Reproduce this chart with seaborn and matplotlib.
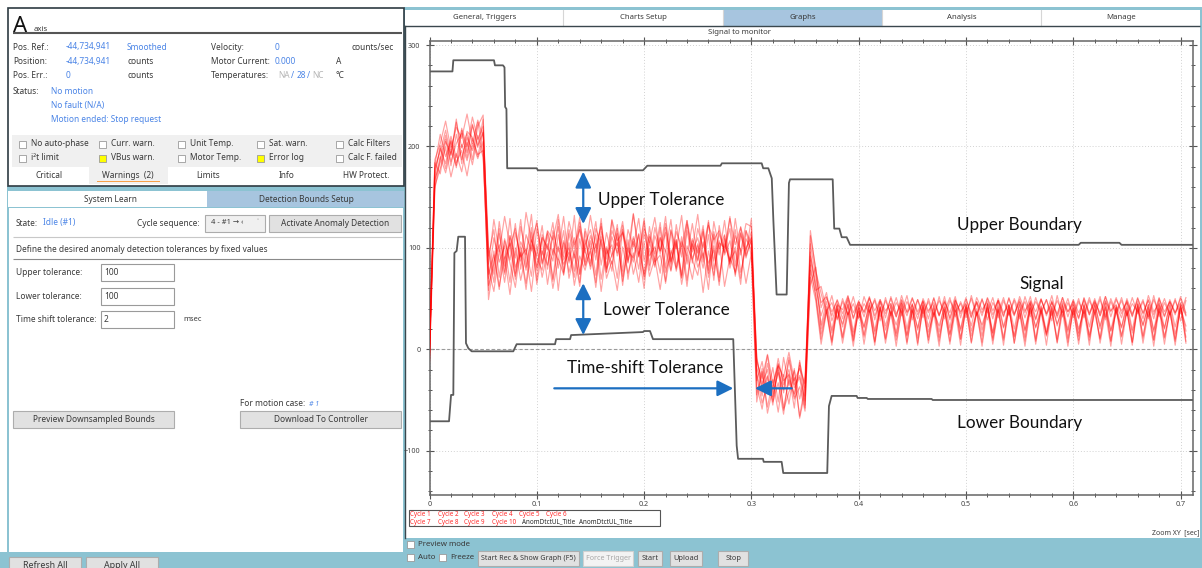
import numpy as np
import pandas as pd
import matplotlib
matplotlib.use("Agg")
import matplotlib.pyplot as plt
from matplotlib.patches import Rectangle
from matplotlib.ticker import MultipleLocator
import seaborn as sns

# ---------------- data ----------------
dt = 0.005  # sampling step of the recorded cycles [sec]

cycle1 = [-4, 176, 198, 183, 210, 189, 216, 194, 221, 201,
          214, 92, 118, 71, 109, 88, 124, 79, 113, 97,
          127, 84, 116, 93, 121, 76, 118, 99, 130, 86,
          112, 95, 124, 81, 117, 102, 126, 88, 111, 94,
          129, 83, 120, 97, 115, 78, 123, 91, 127, 85,
          119, 100, 125, 87, 114, 96, 131, 82, 121, 98,
          116, -24, -46, -14, -39, -9, -35, -20, -47, -13,
          -38, 104, 72, 46, 52, 33, 49, 35, 50, 31,
          48, 36, 51, 33, 47, 35, 50, 32, 49, 37,
          51, 34, 47, 36, 50, 33, 48, 31, 49, 35,
          51, 32, 47, 36, 50, 34, 48, 33, 51, 35,
          49, 31, 48, 37, 50, 33, 47, 35, 51, 32,
          49, 36, 48, 34, 50, 33, 47, 37, 51, 35,
          48, 32, 50, 36, 49, 34, 51, 33, 47, 36,
          50, 34]
cycle2 = [2, 168, 184, 207, 181, 212, 187, 209, 196, 224,
          193, 63, 84, 119, 76, 112, 90, 128, 81, 108,
          92, 122, 79, 117, 96, 131, 85, 110, 74, 119,
          98, 126, 83, 115, 91, 123, 77, 118, 101, 129,
          87, 113, 94, 125, 80, 117, 99, 132, 84, 109,
          95, 122, 78, 116, 93, 127, 86, 112, 97, 124,
          121, -31, -12, -44, -18, -52, -8, -36, -21, -49,
          -27, 96, 58, 62, 38, 46, 30, 47, 34, 52,
          31, 45, 36, 50, 32, 48, 35, 51, 33, 47,
          36, 49, 31, 50, 34, 48, 37, 51, 32, 47,
          35, 50, 33, 49, 36, 51, 31, 48, 34, 50,
          37, 47, 32, 51, 35, 49, 33, 48, 36, 50,
          31, 47, 35, 51, 34, 49, 32, 50, 36, 48,
          33, 51, 35, 47, 32, 49, 36, 50, 34, 48,
          35, 51]
cycle3 = [-9, 182, 212, 190, 205, 179, 218, 200, 229, 207,
          220, 101, 74, 126, 89, 104, 69, 121, 94, 133,
          78, 110, 101, 87, 128, 73, 114, 90, 125, 96,
          82, 119, 104, 76, 127, 92, 116, 85, 133, 99,
          74, 121, 89, 110, 96, 128, 81, 106, 92, 124,
          88, 118, 75, 126, 99, 113, 84, 129, 93, 117,
          103, -7, -42, -26, -55, -17, -43, -11, -38, -28,
          -58, 112, 80, 41, 56, 28, 44, 39, 53, 30,
          46, 37, 52, 29, 49, 38, 45, 32, 53, 36,
          44, 30, 50, 38, 46, 33, 52, 29, 48, 37,
          45, 31, 51, 39, 47, 30, 50, 36, 44, 33,
          52, 38, 46, 29, 49, 35, 53, 31, 47, 37,
          45, 30, 51, 36, 48, 33, 52, 38, 44, 31,
          50, 35, 47, 30, 53, 37, 45, 32, 49, 36,
          46, 33]
cycle4 = [5, 161, 178, 199, 170, 193, 175, 204, 182, 211,
          189, 79, 57, 98, 66, 105, 72, 96, 59, 103,
          81, 110, 64, 99, 88, 117, 70, 94, 62, 108,
          85, 113, 69, 101, 77, 119, 67, 97, 90, 114,
          72, 106, 83, 120, 65, 98, 79, 111, 68, 104,
          87, 116, 71, 102, 63, 109, 84, 118, 76, 100,
          110, -36, -59, -27, -52, -33, -64, -24, -49, -37,
          -61, 78, 54, 15, 39, 9, 42, 12, 44, 8,
          40, 14, 43, 7, 41, 11, 45, 9, 38, 13,
          44, 6, 41, 12, 43, 8, 39, 14, 45, 10,
          42, 7, 40, 13, 44, 9, 41, 11, 43, 6,
          39, 12, 45, 8, 42, 14, 40, 10, 44, 7,
          41, 13, 43, 9, 39, 11, 45, 8, 42, 12,
          40, 7, 44, 13, 41, 9, 43, 11, 38, 8,
          42, 12]
cycle5 = [-2, 187, 203, 225, 197, 219, 208, 232, 203, 226,
          209, 84, 128, 96, 131, 102, 119, 87, 135, 106,
          124, 93, 117, 108, 133, 91, 126, 103, 118, 95,
          132, 100, 121, 89, 128, 107, 115, 97, 134, 92,
          119, 105, 130, 94, 124, 86, 116, 101, 127, 99,
          133, 90, 122, 108, 117, 95, 129, 103, 120, 94,
          129, -12, -29, -5, -33, -16, -27, -3, -31, -19,
          -34, 92, 66, 24, 47, 19, 45, 22, 48, 17,
          44, 21, 46, 18, 47, 23, 43, 16, 48, 20,
          45, 19, 47, 22, 44, 17, 46, 21, 48, 18,
          43, 23, 47, 19, 45, 16, 48, 22, 44, 20,
          46, 18, 47, 21, 43, 17, 48, 23, 45, 19,
          47, 16, 44, 22, 46, 20, 48, 18, 43, 21,
          47, 19, 45, 23, 44, 17, 48, 20, 46, 22,
          44, 18]
cycle6 = [-11, 165, 190, 174, 197, 181, 202, 186, 208, 192,
          196, 58, 97, 62, 91, 54, 100, 68, 94, 57,
          103, 71, 96, 60, 89, 74, 105, 63, 92, 78,
          99, 61, 108, 70, 87, 58, 101, 75, 95, 66,
          106, 72, 90, 59, 98, 77, 104, 64, 93, 69,
          102, 56, 97, 73, 107, 62, 91, 76, 99, 65,
          95, -45, -22, -57, -30, -62, -25, -54, -19, -68,
          -42, 71, 48, 5, 37, 4, 40, 6, 36, 3,
          41, 5, 38, 4, 42, 6, 37, 3, 40, 5,
          39, 4, 43, 6, 36, 3, 41, 5, 38, 4,
          42, 6, 37, 3, 40, 5, 39, 4, 43, 6,
          36, 3, 41, 5, 38, 4, 42, 6, 37, 3,
          40, 5, 39, 4, 43, 6, 36, 3, 41, 5,
          38, 4, 42, 6, 37, 3, 40, 5, 39, 4,
          43, 6]
cycle7 = [0, 179, 195, 216, 191, 224, 199, 213, 187, 220,
          231, 70, 110, 86, 102, 66, 115, 91, 99, 72,
          119, 85, 104, 69, 113, 88, 100, 77, 121, 83,
          107, 73, 116, 94, 103, 70, 118, 86, 109, 79,
          114, 92, 101, 75, 120, 87, 106, 71, 117, 89,
          104, 80, 113, 68, 122, 93, 107, 74, 115, 90,
          111, -18, -37, -6, -44, -23, -40, -8, -35, -26,
          -51, 88, 62, 33, 51, 37, 48, 30, 52, 36,
          47, 32, 50, 38, 49, 31, 52, 35, 46, 33,
          50, 37, 48, 30, 51, 34, 47, 36, 52, 31,
          49, 35, 46, 33, 51, 38, 48, 32, 50, 34,
          47, 36, 52, 30, 49, 35, 46, 33, 51, 37,
          48, 31, 50, 34, 47, 36, 52, 32, 49, 38,
          46, 33, 51, 35, 48, 30, 50, 37, 47, 34,
          52, 36]
cycle8 = [-6, 170, 201, 178, 206, 184, 196, 171, 203, 188,
          205, 49, 87, 103, 74, 112, 81, 95, 65, 107,
          90, 78, 114, 67, 101, 84, 96, 71, 109, 82,
          97, 66, 111, 79, 93, 105, 72, 100, 86, 113,
          69, 99, 81, 110, 76, 94, 108, 70, 102, 88,
          73, 106, 85, 98, 67, 112, 80, 101, 70, 109,
          98, -27, -53, -34, -47, -21, -58, -30, -44, -16,
          -55, 64, 81, 20, 42, 16, 39, 25, 44, 13,
          37, 22, 45, 15, 41, 19, 38, 24, 43, 14,
          40, 21, 44, 17, 36, 23, 42, 15, 39, 20,
          45, 18, 37, 24, 41, 16, 43, 21, 38, 13,
          44, 19, 40, 22, 37, 15, 42, 25, 39, 17,
          43, 20, 38, 14, 45, 23, 41, 18, 36, 22,
          42, 16, 39, 24, 44, 19, 37, 21, 43, 15,
          40, 23]
cycle9 = [3, 184, 173, 205, 192, 227, 183, 215, 209, 190,
          216, 96, 66, 114, 82, 129, 75, 106, 93, 120,
          68, 113, 98, 125, 80, 107, 87, 132, 74, 103,
          118, 88, 129, 76, 111, 95, 122, 69, 106, 91,
          126, 78, 112, 97, 131, 84, 108, 73, 123, 96,
          110, 86, 127, 79, 105, 100, 119, 72, 114, 92,
          107, -9, -34, -20, -50, -14, -31, -25, -58, -11,
          -46, 117, 77, 55, 35, 53, 29, 50, 34, 45,
          30, 52, 37, 48, 28, 51, 33, 46, 36, 53,
          29, 49, 35, 47, 32, 52, 30, 48, 37, 45,
          31, 53, 34, 50, 29, 46, 36, 51, 33, 48,
          30, 52, 35, 47, 37, 49, 28, 53, 32, 46,
          34, 50, 31, 48, 36, 52, 29, 47, 35, 51,
          33, 45, 37, 49, 30, 53, 32, 46, 34, 50,
          28, 48]
cycle10 = [-13, 158, 188, 211, 185, 203, 213, 189, 222, 199,
           227, 74, 93, 59, 107, 85, 61, 101, 78, 115,
           64, 97, 83, 112, 58, 105, 76, 98, 66, 116,
           79, 104, 57, 99, 84, 114, 63, 108, 74, 96,
           60, 111, 86, 93, 67, 118, 77, 102, 62, 107,
           81, 95, 59, 113, 71, 104, 88, 97, 64, 117,
           92, -52, -19, -63, -38, -15, -60, -42, -28, -66,
           -35, 83, 52, 10, 38, 7, 43, 11, 37, 9,
           44, 12, 39, 8, 42, 10, 36, 13, 45, 7,
           38, 11, 43, 9, 40, 12, 37, 8, 44, 10,
           41, 13, 36, 7, 45, 11, 39, 9, 42, 12,
           37, 8, 44, 10, 40, 13, 38, 7, 43, 11,
           39, 9, 45, 12, 36, 10, 42, 8, 41, 13,
           38, 7, 44, 11, 40, 9, 43, 12, 37, 10,
           45, 8]

# upper / lower anomaly boundaries (corner points)
ub_t = [0, 0.0214, 0.0222, 0.0601, 0.0610, 0.0685, 0.0699, 0.0705, 0.0717, 0.0724,
        0.1000, 0.1010, 0.1990, 0.2030, 0.2712, 0.2725, 0.3096, 0.3110, 0.3158, 0.3190,
        0.3205, 0.3235, 0.3329, 0.3350, 0.3360, 0.3758, 0.3772, 0.3820, 0.3842, 0.3888,
        0.3920, 0.6050, 0.6070, 0.6430, 0.6450, 0.712]
ub_v = [274, 274, 285, 285, 280, 280, 278, 239, 237, 178.5,
        178.5, 176.5, 176.5, 181, 181, 183.4, 183.4, 178.5, 178.5, 168.6,
        127, 54, 54, 164, 167.6, 167.6, 119, 119, 110.5, 110.5,
        103, 103, 105, 105, 103, 103]
lb_t = [0, 0.0182, 0.0201, 0.0222, 0.0232, 0.0253, 0.0268, 0.0331, 0.0340, 0.0362,
        0.0393, 0.0781, 0.0812, 0.1170, 0.1180, 0.1310, 0.1320, 0.1990, 0.2000, 0.2055,
        0.2083, 0.2831, 0.2863, 0.2876, 0.3108, 0.3115, 0.3282, 0.3297, 0.3707, 0.3723,
        0.3748, 0.3981, 0.3990, 0.4075, 0.4085, 0.4680, 0.4690, 0.712]
lb_v = [-71, -71, -45, -45, 95, 97, 111, 111, 6, 1,
        -2, -2, 5, 5, 10, 10, 14, 17, 18, 18,
        10, 10, -95, -108, -108, -111, -111, -122, -122, -56,
        -46, -46, -48, -48, -49, -49, -50, -50]

x_ticks = [0, 0.1, 0.2, 0.3, 0.4, 0.5, 0.6, 0.7]
x_labels = ["0", "0.1", "0.2", "0.3", "0.4", "0.5", "0.6", "0.7"]
y_ticks = [-100, 0, 100, 200, 300]
legend_row1 = ["Cycle 1", "Cycle 2", "Cycle 3", "Cycle 4", "Cycle 5", "Cycle 6"]
legend_row2 = ["Cycle 7", "Cycle 8", "Cycle 9", "Cycle 10"]
legend_bounds = ["AnomDtctUL_Title", "AnomDtctUL_Title"]

cycles = [cycle1, cycle2, cycle3, cycle4, cycle5,
          cycle6, cycle7, cycle8, cycle9, cycle10]
frames = []
for k, vals in enumerate(cycles):
    frames.append(pd.DataFrame({"cycle": k + 1,
                                "t": np.arange(len(vals)) * dt,
                                "value": vals}))
sig = pd.concat(frames, ignore_index=True)

# ---------------- figure / GUI frame ----------------
plt.rcParams["font.family"] = ["Noto Sans", "DejaVu Sans"]
W, H = 1202, 568
fig = plt.figure(figsize=(W / 100, H / 100), dpi=100)
fig.patch.set_facecolor("white")

gui = fig.add_axes([0, 0, 1, 1], zorder=0)
gui.set_xlim(0, W)
gui.set_ylim(H, 0)
gui.axis("off")

TEAL = "#8cc3d2"
TAB_SEL = "#a7c5df"
DARK = "#3a3a3a"
BLUE = "#4a84e6"
BTN = "#e1e1e1"


def rect(x0, y0, x1, y1, fc, ec="none", lw=0.8, z=1):
    gui.add_patch(Rectangle((x0, y0), x1 - x0, y1 - y0, fc=fc, ec=ec, lw=lw, zorder=z))


def label(x, y, s, c=DARK, fs=6.0, ha="left", **kw):
    gui.text(x, y, s, color=c, fontsize=fs, ha=ha, va="center", zorder=6, **kw)


def button(x0, y0, x1, y1, s, fc=BTN, ec="#adadad", c=DARK, fs=6.0):
    rect(x0, y0, x1, y1, fc, ec, 0.8, 3)
    label((x0 + x1) / 2, (y0 + y1) / 2, s, c=c, fs=fs, ha="center")


def checkbox(x, y, fc="white"):
    rect(x, y - 3.5, x + 7, y + 3.5, fc, "#9a9a9a", 0.6, 4)


def hline(x0, x1, y, c="#bbbbbb", lw=0.8):
    gui.plot([x0, x1], [y, y], color=c, lw=lw, zorder=4, solid_capstyle="butt")


# background areas
rect(404, 7, W, H, TEAL)
rect(7, 186, 405, 552, TEAL)
rect(0, 552, 405, H, TEAL)

# ---- left top panel (axis status) ----
rect(7.5, 7.5, 403.5, 185.5, "white", "#2e3b42", 1.2, 2)
gui.text(13, 32, "A", fontsize=16, color="#111111", va="baseline", zorder=6)
gui.text(34, 31, "axis", fontsize=5.6, color=DARK, va="baseline", zorder=6)
hline(13, 402, 32.8, "#555555", 1.5)

label(13, 47, "Pos. Ref.:"); label(66, 47, "-44,734,941", BLUE); label(127, 47, "Smoothed", BLUE)
label(211, 47, "Velocity:"); label(275, 47, "0", BLUE); label(351, 47, "counts/sec")
label(13, 61.7, "Position:"); label(66, 61.7, "-44,734,941", BLUE); label(127, 61.7, "counts")
label(211, 61.7, "Motor Current:"); label(275, 61.7, "0.000", BLUE); label(336, 61.7, "A")
label(13, 76, "Pos. Err.:"); label(66, 76, "0", BLUE); label(127, 76, "counts")
label(211, 76, "Temperatures:"); label(278, 76, "NA", "#b5b5b5"); label(291, 76, "/", BLUE)
label(297, 76, "28", BLUE); label(307, 76, "/", BLUE); label(312, 76, "NC", "#b5b5b5"); label(336, 76, "°C")
label(13, 91, "Status:"); label(51, 91, "No motion", BLUE)
label(51, 105.7, "No fault (N/A)", BLUE)
label(51, 120, "Motion ended: Stop request", BLUE)

rect(12, 135, 402, 166.5, "#f0f0f0", z=2)
row_a = ["No auto-phase", "Curr. warn.", "Unit Temp.", "Sat. warn.", "Calc Filters"]
row_b = ["i²t limit", "VBus warn.", "Motor Temp.", "Error log", "Calc F. failed"]
for j, bx in enumerate([19, 99, 178, 257, 336]):
    checkbox(bx, 144)
    label(bx + 12, 144, row_a[j])
    checkbox(bx, 158, "#ffff00" if j in (1, 3) else "white")
    label(bx + 12, 158, row_b[j])

rect(89, 167, 168, 183.5, "#f0f0f0", z=2)
rect(97, 180.8, 160, 182.3, "#f5a04a", z=4)
for cx, s in zip([49, 128, 208, 287, 366], ["Critical", "Warnings  (2)", "Limits", "Info", "HW Protect."]):
    label(cx, 175, s, ha="center")

# ---- left lower panel (detection bounds) ----
rect(8, 191, 207, 206.5, "white", z=2)
rect(207, 191, 404, 206.5, TAB_SEL, z=2)
label(110, 199, "System Learn", ha="center")
label(306, 199, "Detection Bounds Setup", ha="center")
rect(9, 208, 403, 551.5, "white", z=2)

label(16, 223, "State:"); label(43, 223, "Idle (#1)", BLUE)
label(200, 223, "Cycle sequence:", ha="right")
rect(205, 214.5, 265, 231.5, "#f0f0f0", "#acacac", 0.8, 3)
label(211, 223, "4 - #1 \u2192 \u2039", fs=5.4)
label(258, 223, "\u02c5", c="#888888", fs=5.4, ha="center")
button(269, 214.5, 400.5, 231.5, "Activate Anomaly Detection")
hline(13, 402, 236.7, "#c8c8c8")
label(16, 249, "Define the desired anomaly detection tolerances by fixed values")
hline(13, 402, 259, "#8a8a8a")

for y, name, val in [(272.7, "Upper tolerance:", "100"),
                     (296.2, "Lower tolerance:", "100"),
                     (319.7, "Time shift tolerance:", "2")]:
    label(16, y, name)
    rect(101, y - 8.3, 174, y + 8.3, "white", "#9a9a9a", 0.8, 3)
    label(104, y, val)
label(183, 319.7, "msec", fs=5.4)

label(240, 404, "For motion case:")
label(309, 404, "# 1", BLUE, fs=5.0, style="italic")
button(13, 411, 174, 428, "Preview Downsampled Bounds")
button(240, 411, 401, 428, "Download To Controller")
button(9, 556.5, 81, 574, "Refresh All", fs=6.4)
button(86, 556.5, 158, 574, "Apply All", fs=6.4)

# ---- right panel (graphs) ----
rect(405, 10, 1200, 25.7, "white", z=2)
rect(723.5, 10, 881.7, 25.7, TAB_SEL, z=2)
for sx in [563.3, 723.3, 881.7, 1040.7]:
    gui.plot([sx, sx], [10, 25.7], color="#d6d6d6", lw=0.8, zorder=3)
for cx, s in zip([484.3, 643.3, 802.5, 962.3, 1120.7],
                 ["General, Triggers", "Charts Setup", "Graphs", "Analysis", "Manage"]):
    label(cx, 17.8, s, fs=5.6, ha="center")
rect(405, 26.5, 1200, 537.5, "white", z=2)
hline(404, 1200, 26.3, "#3a474d", 1.0)
gui.plot([404.5, 404.5], [26, 537.5], color="#3a474d", lw=1.0, zorder=4)

label(740, 32.3, "Signal to monitor", fs=5.6, ha="center")
label(1199, 533, "Zoom XY  [sec]", fs=5.0, ha="right")

# legend box
rect(409, 510, 660, 526, "white", "#555555", 0.8, 3)
for lx, s in zip([410.5, 437.5, 464.5, 491.5, 518.7, 545.7], legend_row1):
    label(lx, 514, s, "#ff2a2a", fs=4.5)
for lx, s in zip([410.5, 437.5, 464.5, 491.5], legend_row2):
    label(lx, 522, s, "#ff2a2a", fs=4.5)
for lx, s in zip([521.7, 579.3], legend_bounds):
    label(lx, 522, s, "#222222", fs=4.5)

# bottom controls
checkbox(406.7, 544); label(418, 544, "Preview mode", fs=5.7)
checkbox(406.7, 557.7); label(418, 557.7, "Auto", fs=5.7)
checkbox(439, 557.7); label(450, 557.7, "Freeze", fs=5.7)
button(478, 550.7, 579, 566, "Start Rec & Show Graph (F5)", fs=5.2)
button(583.3, 550.7, 633.3, 566, "Force Trigger", fc="#f3f3f3", ec="#d0d0d0", c="#a8a8a8", fs=5.2)
button(637.7, 550.7, 661.7, 566, "Start", fs=5.4)
button(670, 550.7, 701.7, 566, "Upload", fs=5.4)
button(718.3, 550.7, 748.3, 566, "Stop", fs=5.4)

# ---------------- the chart ----------------
ax = fig.add_axes([429.5 / W, 1 - 494.5 / H, (1193 - 429.5) / W, (494.5 - 41) / H], zorder=2)
ax.set_facecolor("white")

sns.lineplot(data=sig, x="t", y="value", units="cycle", estimator=None, sort=False,
             color="#ff0000", alpha=0.36, lw=0.85, legend=False, ax=ax, zorder=3)
sns.lineplot(x=ub_t, y=ub_v, estimator=None, sort=False, color="#5b5b5b", lw=1.3, ax=ax, zorder=4)
sns.lineplot(x=lb_t, y=lb_v, estimator=None, sort=False, color="#5b5b5b", lw=1.3, ax=ax, zorder=4)

ax.set_xlim(0, 0.7116)
ax.set_ylim(-143.2, 304)
ax.set_xticks(x_ticks)
ax.set_xticklabels(x_labels)
ax.set_yticks(y_ticks)
ax.xaxis.set_minor_locator(MultipleLocator(0.02))
ax.yaxis.set_minor_locator(MultipleLocator(20))
ax.tick_params(which="both", direction="inout", top=True, right=True, colors="#555555",
               labelsize=5.2, labelcolor="#444444")
ax.tick_params(which="major", length=6, width=0.8)
ax.tick_params(which="minor", length=3.5, width=0.7)
ax.tick_params(axis="y", pad=3.5)
ax.tick_params(axis="x", pad=2)
ax.grid(which="major", color="#d2d2d2", ls=(0, (1, 2)), lw=0.7)
ax.axhline(0, color="#9a9a9a", ls=(0, (3, 2)), lw=0.8, zorder=2)
for sp in ax.spines.values():
    sp.set_color("#666666")
    sp.set_linewidth(1.1)
ax.set_xlabel("")
ax.set_ylabel("")

# annotations
ARROW = "#1c6fc1"
note_font = dict(fontsize=12.3, color="#111111", family=["Lato", "DejaVu Sans"], va="center", zorder=6)
ax.text(0.157, 147.2, "Upper Tolerance", **note_font)
ax.text(0.1617, 38.8, "Lower Tolerance", **note_font)
ax.text(0.1281, -18.4, "Time-shift Tolerance", **note_font)
ax.text(0.4916, 122.6, "Upper Boundary", **note_font)
ax.text(0.5494, 64.4, "Signal", **note_font)
ax.text(0.4916, -72.7, "Lower Boundary", **note_font)

two_way = dict(arrowstyle="<|-|>", color=ARROW, lw=1.6, mutation_scale=24, shrinkA=0, shrinkB=0)
one_way = dict(arrowstyle="-|>", color=ARROW, lw=1.6, mutation_scale=24, shrinkA=0, shrinkB=0)
ax.annotate("", xy=(0.1433, 175.1), xytext=(0.1433, 123.6), arrowprops=two_way, zorder=6)
ax.annotate("", xy=(0.1433, 65.1), xytext=(0.1433, 14.1), arrowprops=two_way, zorder=6)
ax.annotate("", xy=(0.2831, -38.5), xytext=(0.1163, -38.5), arrowprops=one_way, zorder=6)
ax.annotate("", xy=(0.3034, -38.5), xytext=(0.3376, -38.5), arrowprops=one_way, zorder=6)

fig.savefig("out.png", dpi=100)
